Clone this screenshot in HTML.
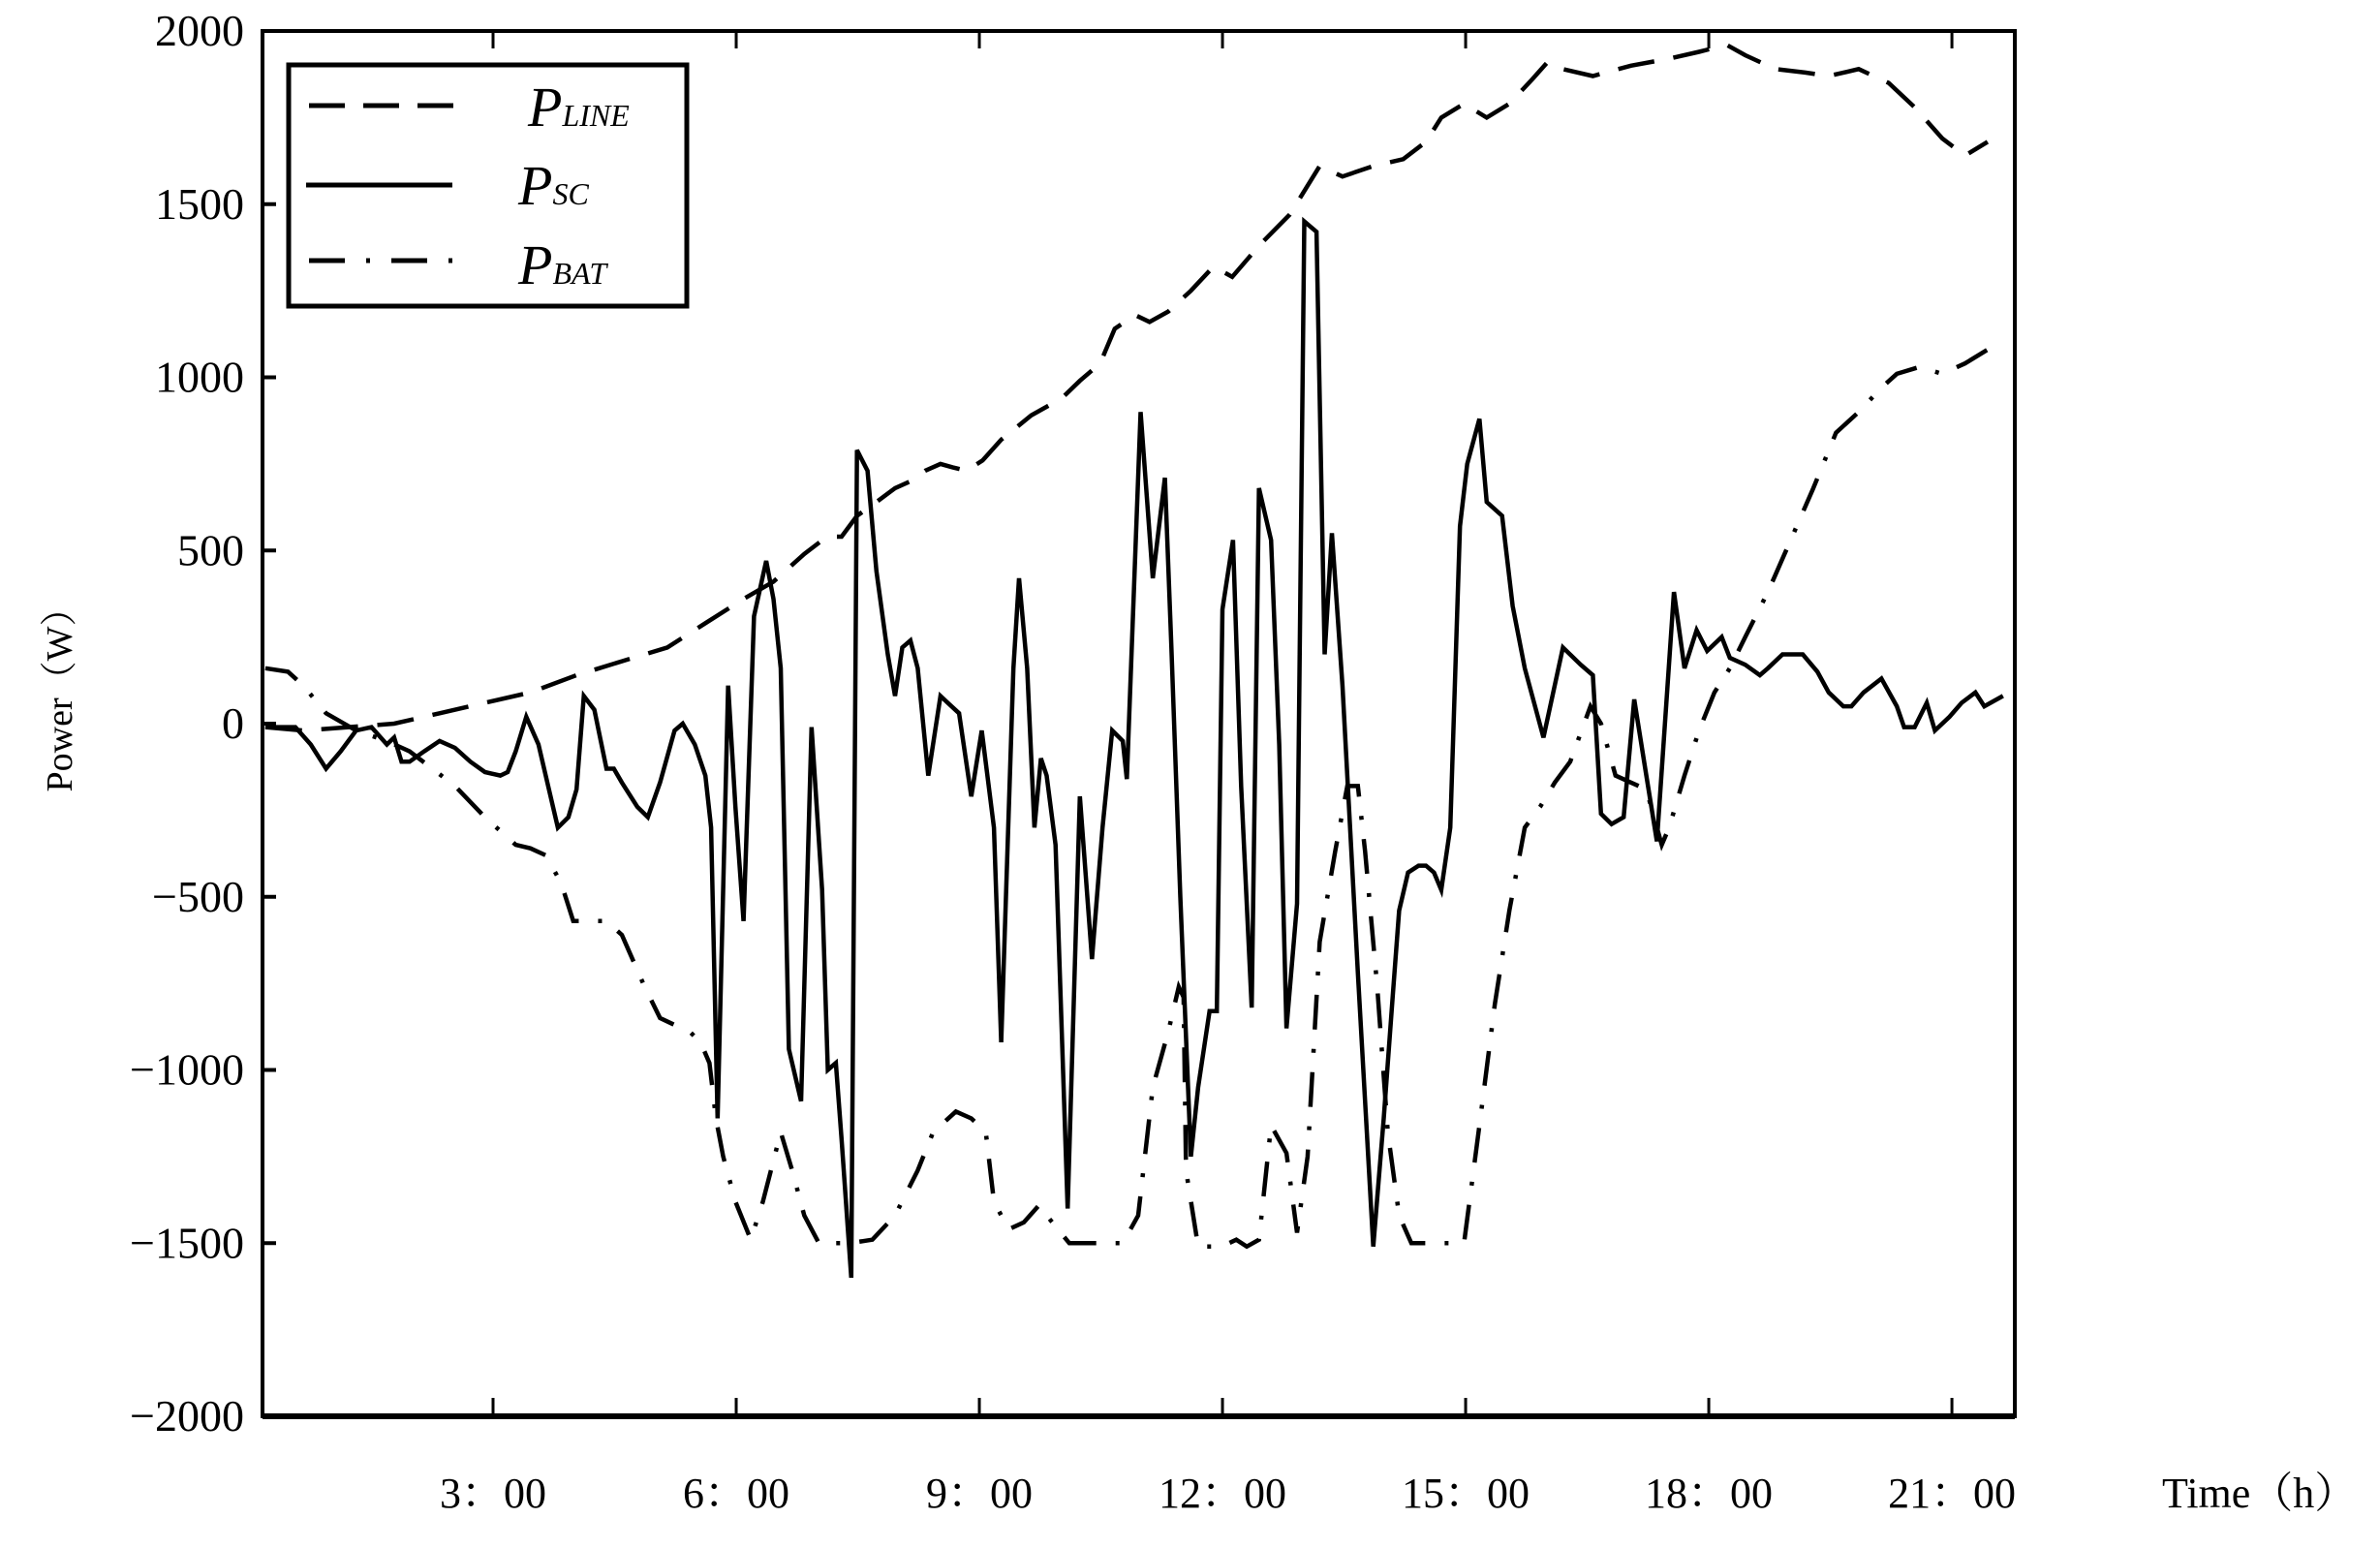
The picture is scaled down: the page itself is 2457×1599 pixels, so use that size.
<!DOCTYPE html>
<html><head><meta charset="utf-8"><style>
html,body{margin:0;padding:0;background:#fff;}
svg{display:block;}
text{font-family:"Liberation Serif","Noto Serif CJK SC",serif;fill:#000;}
</style></head><body>
<svg id="chart" width="2457" height="1599" viewBox="0 0 2457 1599" xmlns="http://www.w3.org/2000/svg"></svg>
<script>
const yTicks = [2000,1500,1000,500,0,-500,-1000,-1500,-2000];
const yTickLabels = ["2000","1500","1000","500","0","\u2212500","\u22121000","\u22121500","\u22122000"];
const xTicks = [3,6,9,12,15,18,21];
const xTickLabels = ["3\uFF1A00","6\uFF1A00","9\uFF1A00","12\uFF1A00","15\uFF1A00","18\uFF1A00","21\uFF1A00"];

const scT = [0.19,0.56,0.75,0.94,1.12,1.31,1.50,1.69,1.78,1.87,1.97,2.15,2.34,2.53,2.72,2.90,3.09,3.18,3.28,3.41,3.56,3.69,3.80,3.93,4.03,4.12,4.25,4.40,4.49,4.59,4.78,4.91,5.06,5.24,5.34,5.49,5.62,5.69,5.77,5.90,5.99,6.09,6.22,6.37,6.46,6.55,6.65,6.80,6.93,7.06,7.13,7.23,7.30,7.42,7.49,7.62,7.73,7.87,7.96,8.05,8.15,8.24,8.37,8.52,8.61,8.75,8.90,9.03,9.18,9.27,9.42,9.49,9.59,9.68,9.76,9.83,9.94,10.09,10.24,10.39,10.52,10.64,10.77,10.82,10.99,11.14,11.29,11.37,11.48,11.61,11.70,11.84,11.93,12.00,12.13,12.23,12.36,12.45,12.60,12.70,12.79,12.92,13.01,13.16,13.26,13.35,13.48,13.67,13.86,13.99,14.10,14.18,14.29,14.42,14.51,14.61,14.70,14.81,14.93,15.02,15.17,15.26,15.45,15.58,15.73,15.96,16.20,16.42,16.57,16.67,16.80,16.95,17.08,17.23,17.36,17.57,17.70,17.85,17.98,18.16,18.26,18.45,18.63,18.73,18.91,19.16,19.34,19.48,19.66,19.76,19.91,20.13,20.32,20.41,20.54,20.69,20.79,20.97,21.12,21.29,21.40,21.63];
const scW = [-10,-10,-60,-130,-80,-20,-10,-60,-40,-110,-110,-80,-50,-70,-110,-140,-150,-140,-80,20,-60,-190,-300,-270,-190,80,40,-130,-130,-170,-240,-270,-170,-20,0,-60,-150,-300,-1140,110,-240,-570,310,470,360,160,-940,-1090,-10,-480,-1000,-980,-1200,-1600,790,730,440,200,80,220,240,160,-150,80,60,30,-210,-20,-300,-920,160,420,160,-300,-100,-150,-350,-1400,-210,-680,-300,-20,-50,-160,900,420,710,220,-500,-1250,-1050,-830,-830,330,530,-180,-820,680,530,-60,-880,-520,1450,1420,200,550,110,-720,-1510,-1140,-790,-540,-430,-410,-410,-430,-480,-300,570,750,880,640,600,340,160,-40,220,170,140,-260,-290,-270,70,-150,-340,380,160,270,210,250,190,170,140,160,200,200,150,90,50,50,90,130,50,-10,-10,60,-20,20,60,90,50,80];

const lineT = [0.19,0.66,1.22,1.78,2.34,2.90,3.46,4.03,4.59,5.15,5.62,6.09,6.46,6.84,7.12,7.30,7.49,7.73,7.96,8.15,8.33,8.52,8.67,8.84,9.04,9.27,9.64,10.02,10.24,10.49,10.67,10.92,11.10,11.33,11.61,11.89,12.12,12.45,12.83,13.20,13.48,13.86,14.23,14.51,14.70,14.98,15.26,15.54,15.82,16.01,16.20,16.57,17.04,17.51,17.88,18.22,18.45,18.82,19.19,19.48,19.85,20.22,20.54,20.88,21.16,21.44];
const lineW = [-10,-20,-10,0,30,60,90,140,180,220,290,360,410,490,540,540,600,640,680,700,730,750,740,730,760,820,890,940,990,1040,1140,1180,1160,1190,1250,1320,1290,1380,1470,1610,1580,1610,1630,1680,1750,1790,1750,1790,1860,1910,1890,1870,1900,1920,1940,1960,1930,1890,1880,1870,1890,1850,1780,1690,1640,1680];

const batT = [0.19,0.47,0.66,0.94,1.31,1.69,1.97,2.25,2.53,2.90,3.28,3.46,3.65,3.84,3.99,4.12,4.40,4.59,4.87,5.06,5.24,5.43,5.56,5.67,5.75,5.84,5.99,6.18,6.33,6.55,6.69,6.84,7.02,7.40,7.68,7.96,8.24,8.43,8.71,8.90,9.08,9.18,9.36,9.55,9.74,9.83,10.11,10.77,10.96,11.14,11.33,11.46,11.52,11.55,11.70,11.99,12.17,12.30,12.45,12.60,12.79,12.92,13.05,13.20,13.39,13.54,13.67,13.76,13.91,14.04,14.18,14.33,14.98,15.17,15.36,15.54,15.73,15.92,16.10,16.29,16.54,16.67,16.85,17.04,17.23,17.42,17.51,17.70,17.88,18.07,18.26,18.45,18.73,19.01,19.29,19.57,19.85,20.13,20.32,20.60,20.88,21.16,21.44];
const batW = [160,150,110,30,-20,-50,-80,-130,-180,-270,-350,-360,-380,-460,-570,-570,-570,-610,-760,-850,-870,-890,-920,-980,-1140,-1250,-1380,-1490,-1380,-1180,-1290,-1420,-1500,-1500,-1490,-1420,-1290,-1180,-1120,-1140,-1180,-1380,-1460,-1440,-1390,-1420,-1500,-1500,-1420,-1050,-890,-760,-790,-1290,-1510,-1510,-1490,-1510,-1490,-1160,-1240,-1470,-1250,-630,-370,-180,-180,-370,-760,-1180,-1420,-1500,-1500,-1160,-810,-540,-300,-240,-170,-110,50,0,-150,-170,-190,-350,-300,-150,-20,90,160,250,380,530,680,840,900,970,1010,1030,1010,1040,1080];

const L=271,R=2080,T=32,B=1462;
const xOf = h => 258 + h*83.67;
const yOf = w => T + (2000 - w)*(B-T)/4000;
const NS="http://www.w3.org/2000/svg";
const svg=document.getElementById('chart');
function mk(tag, attrs, parent){const e=document.createElementNS(NS,tag);for(const k in attrs)e.setAttribute(k,attrs[k]);(parent||svg).appendChild(e);return e;}

// series
function series(ts, ws, dash, name){
  const d = ts.map((t,i)=>(i?'L':'M')+xOf(t).toFixed(1)+','+yOf(ws[i]).toFixed(1)).join(' ');
  const p = mk('path',{d:d,fill:'none',stroke:'#000','stroke-width':4.5,'stroke-linejoin':'miter','stroke-dasharray':dash});
  
  
}
series(lineT, lineW, '38 20', 'p-line-series');
series(scT, scW, 'none', 'p-sc-series');
series(batT, batW, '36 20 4 20', 'p-bat-series');

// frame
const fr = mk('rect',{x:L,y:T,width:R-L,height:B-T,fill:'none',stroke:'#000','stroke-width':4});


const bl = mk('line',{x1:L,y1:B,x2:R,y2:B,stroke:'#000','stroke-width':6});



// y ticks
yTicks.forEach((v,i)=>{
  const y=yOf(v);
  if(i>0 && i<yTicks.length-1){
    const tk=mk('line',{x1:L,y1:y,x2:L+14,y2:y,stroke:'#000','stroke-width':4});
    
    
  }
  const t=mk('text',{x:252,y:y+15,'font-size':46,'text-anchor':'end'});
  t.textContent=yTickLabels[i];
  
  
});
// x ticks
xTicks.forEach((h,i)=>{
  const x=xOf(h);
  const a=mk('line',{x1:x,y1:B,x2:x,y2:B-19,stroke:'#000','stroke-width':3});
  
  
  const b=mk('line',{x1:x,y1:T,x2:x,y2:T+18,stroke:'#000','stroke-width':3});
  
  
  const t=mk('text',{x:x,y:1556,'font-size':44,'text-anchor':'middle'});
  t.textContent=xTickLabels[i];
  
  
});
</script>
<svg style="position:absolute;left:0;top:0" width="2457" height="1599">
  <text x="2232" y="1556" font-size="44" style="font-family:'Liberation Serif','Noto Serif CJK SC',serif">Time（h）</text>
  <text transform="translate(74,713) rotate(-90)" font-size="38" text-anchor="middle" style="font-family:'Liberation Serif','Noto Serif CJK SC',serif">Power（W）</text>
  <g>
    <rect x="298" y="67" width="411" height="249" fill="#fff" stroke="#000" stroke-width="5"/>
    <line x1="319" y1="109" x2="470" y2="109" stroke="#000" stroke-width="5" stroke-dasharray="37 19"/>
    <line x1="316" y1="191" x2="467" y2="191" stroke="#000" stroke-width="5"/>
    <line x1="319" y1="269" x2="470" y2="269" stroke="#000" stroke-width="5" stroke-dasharray="37 22 4 22"/>
    <text x="545" y="130" font-size="58" font-style="italic" style="font-family:'Liberation Serif',serif">P<tspan font-size="32" font-style="italic">LINE</tspan></text>
    <text x="535" y="211" font-size="58" font-style="italic" style="font-family:'Liberation Serif',serif">P<tspan font-size="32" font-style="italic">SC</tspan></text>
    <text x="535" y="293" font-size="58" font-style="italic" style="font-family:'Liberation Serif',serif">P<tspan font-size="32" font-style="italic">BAT</tspan></text>
  </g>
</svg>
</body></html>
